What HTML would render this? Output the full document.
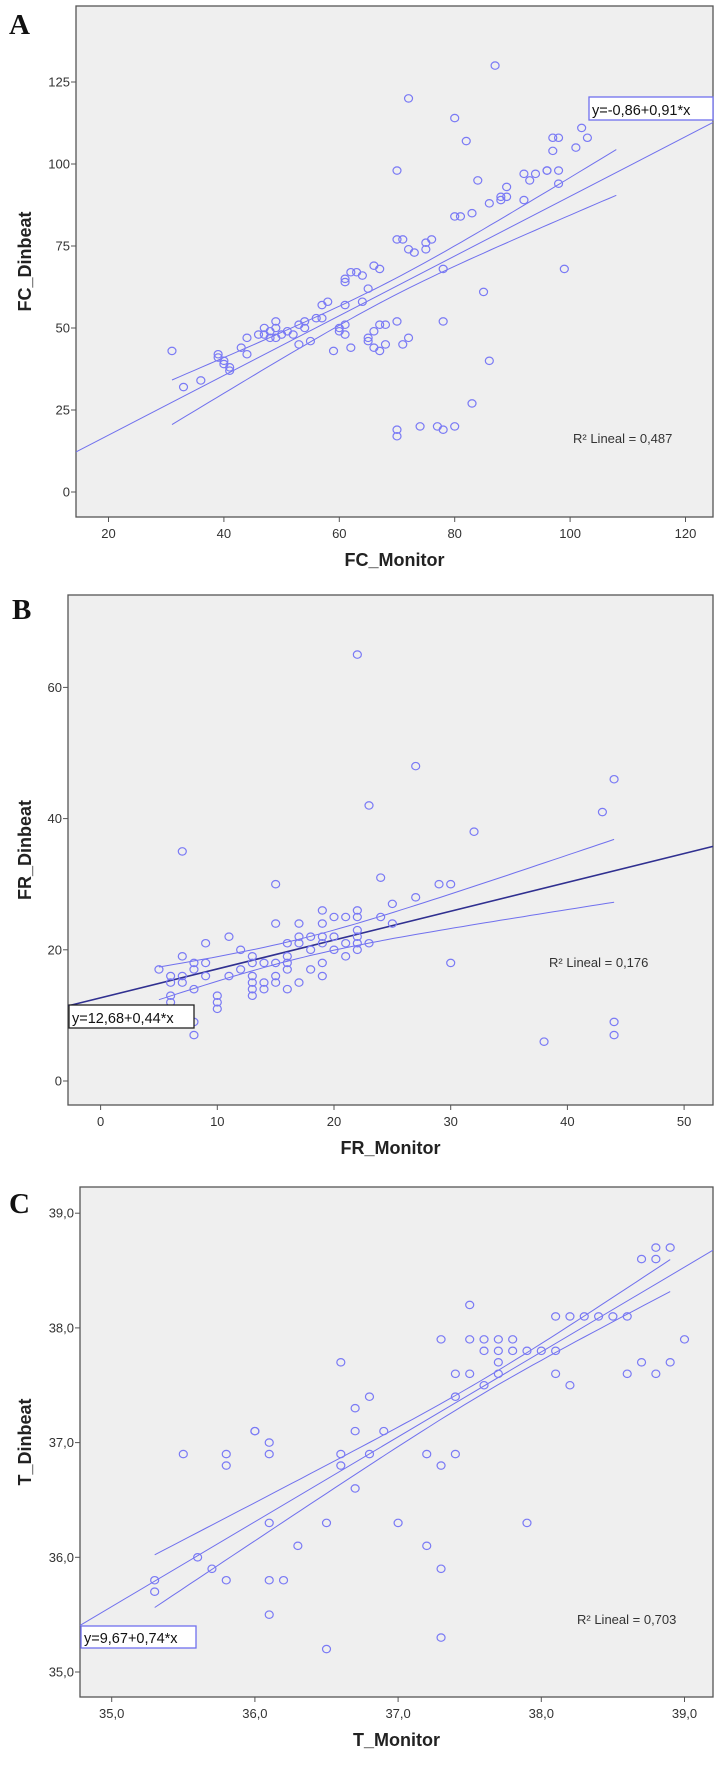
<!DOCTYPE html>
<html><head><meta charset="utf-8"><style>
html,body{margin:0;padding:0;background:#fff;}
svg{display:block}
</style></head><body>
<svg id="s" xmlns="http://www.w3.org/2000/svg" width="720" height="1769" viewBox="0 0 720 1769">
<text x="9" y="34" font-family="Liberation Serif,serif" font-size="29" font-weight="bold" fill="#111">A</text>
<text x="12" y="619" font-family="Liberation Serif,serif" font-size="29" font-weight="bold" fill="#111">B</text>
<text x="9" y="1213" font-family="Liberation Serif,serif" font-size="29" font-weight="bold" fill="#111">C</text>
</svg>
<script>
var NS="http://www.w3.org/2000/svg",S=document.getElementById("s");
function el(t,a,txt){var e=document.createElementNS(NS,t);for(var k in a)e.setAttribute(k,a[k]);if(txt!=null)e.textContent=txt;S.appendChild(e);return e;}
var TF='"Liberation Sans Narrow","Liberation Sans",sans-serif';
function panel(P){
  var X=function(v){return P.x0+(v-P.xv0)*P.xs;}, Y=function(v){return P.y0-(v-P.yv0)*P.ys;};
  el("rect",{x:P.L,y:P.T,width:P.R-P.L,height:P.B-P.T,fill:"#efefef",stroke:"#555","stroke-width":1.3});
  P.xt.forEach(function(v,i){var x=X(v);el("line",{x1:x,y1:P.B,x2:x,y2:P.B+5,stroke:"#555"});
    el("text",{x:x,y:P.B+21,"text-anchor":"middle","font-family":TF,"font-size":13,fill:"#333"},P.xl[i]);});
  P.yt.forEach(function(v,i){var y=Y(v);el("line",{x1:P.L-5,y1:y,x2:P.L,y2:y,stroke:"#555"});
    el("text",{x:P.L-6,y:y+4.5,"text-anchor":"end","font-family":TF,"font-size":13,fill:"#333"},P.yl[i]);});
  el("text",{x:(P.L+P.R)/2,y:P.xlabY,"text-anchor":"middle","font-family":TF,"font-size":18,"font-weight":"bold",fill:"#222"},P.xlab);
  el("text",{x:0,y:0,"text-anchor":"middle","font-family":TF,"font-size":18,"font-weight":"bold",fill:"#222",transform:"translate("+P.ylabX+","+(P.T+P.B)/2+") rotate(-90)"},P.ylab);
  var f=function(v){return P.a+P.b*v;};
  var vL=P.xv0+(P.L-P.x0)/P.xs, vR=P.xv0+(P.R-P.x0)/P.xs;
  el("line",{x1:P.L,y1:Y(f(vL)),x2:P.R,y2:Y(f(vR)),stroke:P.fitc,"stroke-width":P.fitw});
  [1,-1].forEach(function(sg){var d="";for(var i=0;i<=60;i++){var v=P.c0+(P.c1-P.c0)*i/60;var h=Math.sqrt(P.h0*P.h0+P.cc*(v-P.m)*(v-P.m));d+=(i?"L":"M")+X(v).toFixed(1)+","+Y(f(v)+sg*h).toFixed(1);}
    el("path",{d:d,fill:"none",stroke:"#7070ee","stroke-width":1});});
  P.pts.forEach(function(p){el("ellipse",{cx:X(p[0]),cy:Y(p[1]),rx:4,ry:3.7,fill:"none",stroke:"#7a7af5","stroke-width":1.2});});
  var e=P.eq;el("rect",{x:e[0],y:e[1],width:e[2],height:e[3],fill:"#fff",stroke:e[4],"stroke-width":1.3});
  el("text",{x:e[0]+3,y:e[1]+e[3]-5,"font-family":TF,"font-size":14.5,fill:"#111"},e[5]);
  el("text",{x:P.r2[0],y:P.r2[1],"font-family":TF,"font-size":13,fill:"#333"},P.r2[2]);
}
panel({L:76,R:713,T:6,B:517,x0:108.5,xv0:20,xs:5.77,y0:492,yv0:0,ys:3.28,
 xt:[20,40,60,80,100,120],xl:["20","40","60","80","100","120"],yt:[0,25,50,75,100,125],yl:["0","25","50","75","100","125"],
 xlab:"FC_Monitor",xlabY:566,ylab:"FC_Dinbeat",ylabX:31,a:-0.86,b:0.91,fitc:"#7070ee",fitw:1,
 c0:31,c1:108,m:69,h0:2.5,cc:0.0277,eq:[589,97,124,23,"#7070ee","y=-0,86+0,91*x"],r2:[573,443,"R² Lineal = 0,487"],
 pts:[[31,43],[33,32],[36,34],[39,42],[39,41],[40,39],[40,40],[41,38],[41,37],[43,44],[44,42],[44,47],[46,48],[47,50],[47,48],[48,47],[48,49],[49,52],[49,50],[49,47],[50,48],[51,49],[52,48],[53,51],[53,45],[54,50],[54,52],[55,46],[56,53],[57,57],[57,53],[58,58],[59,43],[60,49],[60,50],[61,51],[61,48],[61,65],[61,64],[62,67],[61,57],[62,44],[63,67],[64,66],[64,58],[65,62],[65,46],[65,47],[66,69],[67,68],[66,44],[66,49],[67,51],[67,43],[68,45],[68,51],[70,98],[70,77],[70,52],[70,19],[70,17],[71,77],[71,45],[72,47],[72,74],[72,120],[73,73],[74,20],[75,76],[75,74],[76,77],[77,20],[78,19],[78,68],[78,52],[80,114],[80,20],[80,84],[81,84],[82,107],[83,85],[83,27],[84,95],[85,61],[86,40],[86,88],[87,130],[88,89],[88,90],[89,90],[89,93],[92,89],[92,97],[93,95],[94,97],[96,98],[96,98],[97,108],[97,104],[98,108],[98,98],[98,94],[99,68],[101,105],[102,111],[103,108]]});
panel({L:68,R:713,T:595,B:1105,x0:100.6,xv0:0,xs:11.67,y0:1081,yv0:0,ys:6.56,
 xt:[0,10,20,30,40,50],xl:["0","10","20","30","40","50"],yt:[0,20,40,60],yl:["0","20","40","60"],
 xlab:"FR_Monitor",xlabY:1154,ylab:"FR_Dinbeat",ylabX:31,a:12.68,b:0.44,fitc:"#303090",fitw:1.6,
 c0:5,c1:44,m:17,h0:1.45,cc:0.0286,eq:[69,1005,125,23,"#222","y=12,68+0,44*x"],r2:[549,967,"R² Lineal = 0,176"],
 pts:[[5,17],[6,16],[6,15],[6,13],[6,12],[7,16],[7,15],[7,19],[7,35],[8,17],[8,18],[8,14],[8,9],[8,7],[9,21],[9,18],[9,16],[10,13],[10,12],[10,11],[11,22],[11,16],[12,20],[12,17],[13,19],[13,18],[13,16],[13,15],[13,14],[13,13],[14,18],[14,14],[14,15],[15,24],[15,30],[15,18],[15,16],[15,15],[16,21],[16,19],[16,18],[16,17],[16,14],[17,24],[17,22],[17,21],[17,15],[18,22],[18,20],[18,17],[19,26],[19,24],[19,22],[19,21],[19,18],[19,16],[20,25],[20,22],[20,20],[21,25],[21,21],[21,19],[22,65],[22,26],[22,25],[22,23],[22,22],[22,21],[22,20],[23,42],[23,21],[24,31],[24,25],[25,27],[25,24],[27,48],[27,28],[29,30],[30,30],[30,18],[32,38],[38,6],[43,41],[44,46],[44,9],[44,7]]});
panel({L:80,R:713,T:1187,B:1697,x0:111.7,xv0:35,xs:143.2,y0:1672,yv0:35,ys:114.7,
 xt:[35,36,37,38,39],xl:["35,0","36,0","37,0","38,0","39,0"],yt:[35,36,37,38,39],yl:["35,0","36,0","37,0","38,0","39,0"],
 xlab:"T_Monitor",xlabY:1746,ylab:"T_Dinbeat",ylabX:31,a:9.67,b:0.74,fitc:"#7070ee",fitw:1,
 c0:35.3,c1:38.9,m:37.6,h0:0.062,cc:0.00928,eq:[81,1626,115,22,"#7070ee","y=9,67+0,74*x"],r2:[577,1624,"R² Lineal = 0,703"],
 pts:[[35.3,35.8],[35.3,35.7],[35.5,36.9],[35.6,36.0],[35.7,35.9],[35.8,35.8],[35.8,36.9],[35.8,36.8],[36.0,37.1],[36.0,37.1],[36.1,37.0],[36.1,36.9],[36.1,36.3],[36.1,35.8],[36.1,35.5],[36.2,35.8],[36.3,36.1],[36.5,36.3],[36.5,35.2],[36.6,37.7],[36.6,36.9],[36.6,36.8],[36.7,37.3],[36.7,37.1],[36.7,36.6],[36.8,37.4],[36.8,36.9],[36.9,37.1],[37.0,36.3],[37.2,36.9],[37.2,36.1],[37.3,37.9],[37.3,36.8],[37.3,35.9],[37.3,35.3],[37.4,37.6],[37.4,37.4],[37.4,36.9],[37.5,38.2],[37.5,37.9],[37.5,37.6],[37.6,37.9],[37.6,37.8],[37.6,37.5],[37.7,37.9],[37.7,37.8],[37.7,37.7],[37.7,37.6],[37.8,37.9],[37.8,37.8],[37.9,37.8],[37.9,36.3],[38.0,37.8],[38.1,38.1],[38.1,37.8],[38.1,37.6],[38.2,38.1],[38.2,37.5],[38.3,38.1],[38.4,38.1],[38.5,38.1],[38.6,38.1],[38.6,37.6],[38.7,38.6],[38.7,37.7],[38.8,38.7],[38.8,38.6],[38.8,37.6],[38.9,38.7],[38.9,37.7],[39.0,37.9]]});
</script>
</body></html>
